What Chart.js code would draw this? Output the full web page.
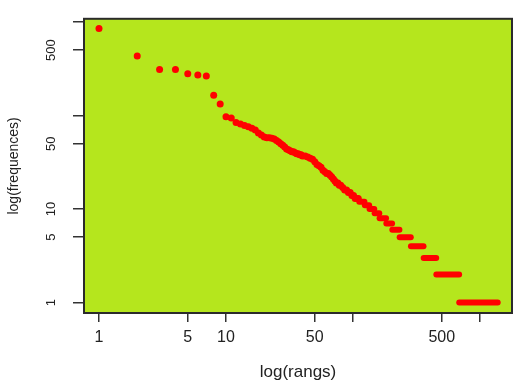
<!DOCTYPE html>
<html>
<head>
<meta charset="utf-8">
<script src="https://cdn.jsdelivr.net/npm/chart.js@4/dist/chart.umd.min.js"></script>
<style>
  html, body { margin: 0; padding: 0; background: #ffffff; }
  canvas { display: block; }
</style>
</head>
<body>
<canvas id="c" width="525" height="389"></canvas>
<script>
// ---- data ----
// individual ranks (upper part of the curve)
const ranks = [1,2,3,4,5,6,7,8,9,10,11,12,13,14,15,16,17,18,19,20,21,22,23,24,25,26,27,28,29,30,31,32,33,34,35,36,37,38,39,40,42,44,46,48,50,52,54,56,58,60,62,64,66,68,70,72,74,76,78,80,83,86,89,92,95,98,101,104,107,110];
const freqs = [850,432,311,311,280,272,265,165,133,97,94,84,81,78,76,73,70,65,62,59,58,58,57,56,54,52,50,48,46,44,43,42,41,41,40,39,39,38,38,37,37,36,35,34,32,30,29,28,26,25,24,24,23,22,21,20,19,19,18,18,17,16,16,15,15,14,14,13,13,13];
// plateaus of equal frequency (first rank .. last rank)
const plateauFreq = [1, 2, 3, 4, 5, 6, 7, 8, 9, 10, 11, 12];
const plateauFrom = [686, 453, 360, 286, 233, 204, 183, 162, 148, 135, 124, 112];
const plateauTo   = [1378, 685, 452, 359, 285, 232, 203, 182, 161, 147, 134, 123];
// axis ticks
const xTicks = [1, 5, 10, 50, 100, 500, 1000];
const xTickLabels = ['1', '5', '10', '50', '', '500', ''];
const yTicks = [1, 5, 10, 50, 100, 500, 1000];
const yTickLabels = ['1', '5', '10', '50', '', '500', ''];

const FONT = "'Liberation Sans', Arial, sans-serif";
const RED = '#ff0000';

const datasets = [{
  data: ranks.map((r, i) => ({ x: r, y: freqs[i] })),
  backgroundColor: RED,
  borderWidth: 0,
  pointRadius: 3.5,
  pointHoverRadius: 3.5
}];
plateauFreq.forEach((f, i) => {
  datasets.push({
    data: [{ x: plateauFrom[i], y: f }, { x: plateauTo[i], y: f }],
    showLine: true,
    borderColor: RED,
    borderWidth: 6,
    borderCapStyle: 'round',
    pointRadius: 0,
    pointHoverRadius: 0
  });
});

const plotBox = {
  id: 'plotBox',
  beforeDraw(chart) {
    const { ctx, chartArea: a } = chart;
    ctx.save();
    ctx.fillStyle = '#b5e61d';
    ctx.fillRect(a.left, a.top, a.right - a.left, a.bottom - a.top);
    ctx.restore();
  },
  afterDraw(chart) {
    const { ctx, chartArea: a } = chart;
    ctx.save();
    ctx.strokeStyle = '#2b2b2b';
    ctx.lineWidth = 2;
    ctx.strokeRect(a.left, a.top, a.right - a.left, a.bottom - a.top);
    ctx.restore();
  }
};

new Chart(document.getElementById('c'), {
  type: 'scatter',
  data: { datasets },
  plugins: [plotBox],
  options: {
    responsive: false,
    animation: false,
    events: [],
    layout: { padding: { top: 11, right: 13, left: 0, bottom: 0 } },
    plugins: { legend: { display: false }, tooltip: { enabled: false } },
    scales: {
      x: {
        type: 'logarithmic',
        min: 0.762,
        max: 1786,
        afterBuildTicks: s => { s.ticks = xTicks.map(v => ({ value: v })); },
        afterFit: s => { s.height = 76; },
        ticks: {
          autoSkip: false,
          maxRotation: 0,
          minRotation: 0,
          padding: 6,
          color: '#222',
          font: { family: FONT, size: 16 },
          callback: (v, i) => xTickLabels[i]
        },
        grid: { drawOnChartArea: false, drawTicks: true, tickLength: 9, color: '#333', lineWidth: 1.5 },
        border: { display: false },
        title: {
          display: true,
          text: 'log(rangs)',
          color: '#222',
          font: { family: FONT, size: 17 },
          padding: { top: 0, bottom: 6 }
        }
      },
      y: {
        type: 'logarithmic',
        min: 0.774,
        max: 1082,
        afterBuildTicks: s => { s.ticks = yTicks.map(v => ({ value: v })); },
        afterFit: s => { s.width = 84; },
        ticks: {
          autoSkip: false,
          minRotation: 90,
          maxRotation: 90,
          crossAlign: 'center',
          padding: 11,
          color: '#222',
          font: { family: FONT, size: 13 },
          callback: (v, i) => yTickLabels[i]
        },
        grid: { drawOnChartArea: false, drawTicks: true, tickLength: 11, color: '#333', lineWidth: 1.5 },
        border: { display: false },
        title: {
          display: true,
          text: 'log(frequences)',
          color: '#222',
          font: { family: FONT, size: 14 },
          padding: { top: 6, bottom: 0 }
        }
      }
    }
  }
});
</script>
</body>
</html>
